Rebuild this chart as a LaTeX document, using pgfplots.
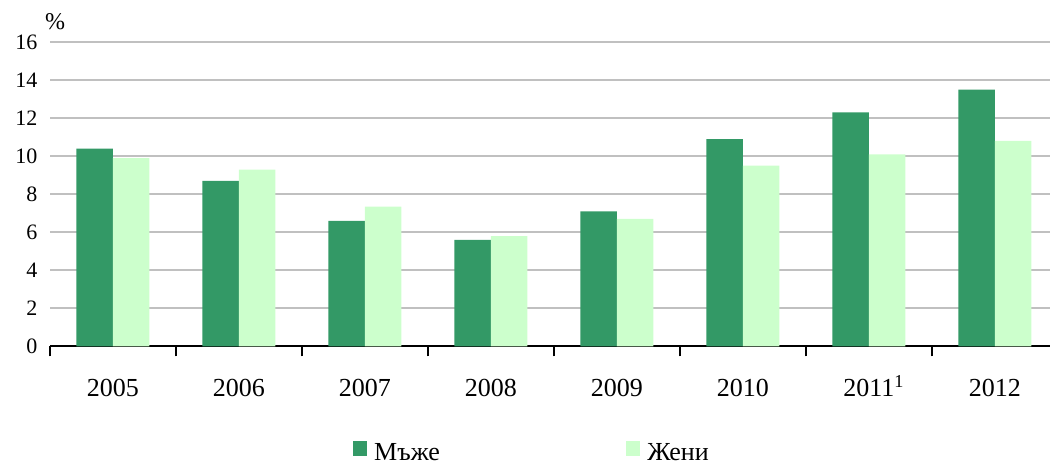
\documentclass[border=0pt]{standalone}
\usepackage{fontspec}
\setmainfont{Liberation Serif}
\usepackage{pgfplots}
\pgfplotsset{compat=1.18}
\definecolor{men}{HTML}{339966}
\definecolor{women}{HTML}{CCFFCC}
\definecolor{gridc}{HTML}{C0C0C0}
\begin{document}
\begin{tikzpicture}
\begin{axis}[
  name=ax,
  at={(0,0)}, anchor=south west,
  scale only axis, width=500pt, height=152.25pt,
  xmin=-0.5, xmax=7.437, ymin=0, ymax=16,
  ybar=0pt, bar width=18.25pt,
  axis lines*=left,
  y axis line style={draw=none},
  x axis line style={line width=1pt, black},
  ytick={0,2,...,16},
  yticklabels={0,2,4,6,8,10,12,14,16},
  xtick={0,...,7},
  xticklabels={2005,2006,2007,2008,2009,2010,2011\rlap{\smash{\textsuperscript{1}}},2012},
  minor xtick={-0.5,0.5,1.5,2.5,3.5,4.5,5.5,6.5},
  major x tick style={draw=none},
  minor x tick style={line width=1pt, black},
  minor tick length=5pt,
  tick align=outside,
  ytick style={draw=none},
  ymajorgrids,
  major grid style={gridc, line width=1pt},
  yticklabel shift=-1.5pt,
  yticklabel style={font=\fontsize{11}{13}\selectfont, anchor=east},
  xticklabel style={font=\fontsize{13}{15}\selectfont, yshift=-8.5pt},
  legend columns=2,
  legend style={draw=none, fill=none, inner sep=0pt, outer sep=0pt,
    at={(0.3027,-0.3525)}, anchor=west,
    font=\fontsize{13}{15}\selectfont,
    /tikz/every even column/.append style={column sep=91pt}},
  legend image code/.code={\fill[#1,draw=none] (0pt,-1pt) rectangle (7.25pt,6.25pt);},
]
\addplot[fill=men, draw=none] coordinates {(0,10.4) (1,8.7) (2,6.6) (3,5.6) (4,7.1) (5,10.9) (6,12.3) (7,13.5)};
\addlegendentry{\hspace{1.5pt}Мъже}
\addplot[fill=women, draw=none] coordinates {(0,9.9) (1,9.3) (2,7.35) (3,5.8) (4,6.7) (5,9.5) (6,10.1) (7,10.8)};
\addlegendentry{\hspace{1.5pt}Жени}
\end{axis}
\node[font=\fontsize{12}{14}\selectfont] at ([xshift=2.5pt,yshift=10.25pt]ax.north west) {\%};
\pgfresetboundingbox
\path[use as bounding box] (-25pt,-58.75pt) rectangle (500pt,173.25pt);
\end{tikzpicture}
\end{document}
